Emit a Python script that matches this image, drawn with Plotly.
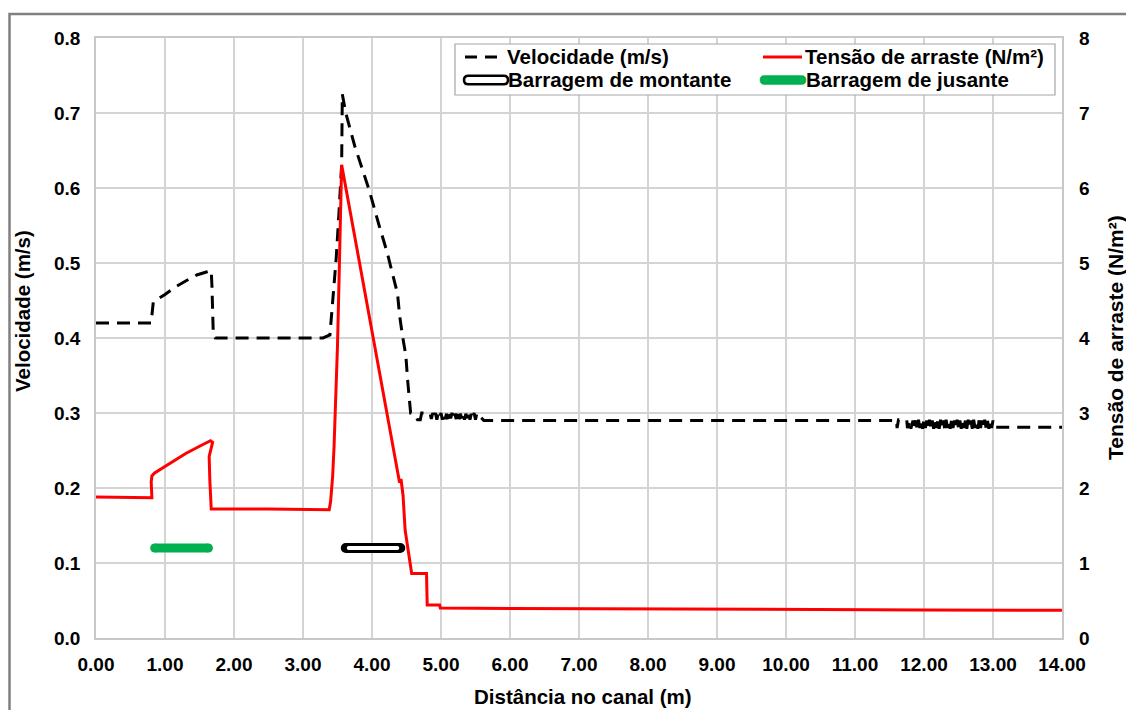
import plotly.graph_objects as go

# ---------------- data ----------------
vel_x = [0.00, 0.80, 0.81, 0.82, 0.83, 1.00, 1.15, 1.30, 1.46, 1.60, 1.67, 1.68, 1.69, 1.70, 1.73,
         2.50, 3.29, 3.39, 3.43, 3.48, 3.52, 3.56, 3.57, 3.62, 3.75, 3.96, 4.10, 4.22, 4.37, 4.40,
         4.44, 4.49, 4.52, 4.55,
         4.56, 4.58, 4.62, 4.66, 4.70, 4.72, 4.84, 4.86, 4.88, 4.90, 4.92, 4.94, 4.96, 4.98,
         5.00, 5.02, 5.04, 5.06, 5.08, 5.10, 5.12, 5.14, 5.16, 5.18, 5.20, 5.22, 5.24, 5.26,
         5.28, 5.30, 5.32, 5.34, 5.36, 5.38, 5.40, 5.42, 5.44, 5.46, 5.48, 5.50, 5.52,
         5.62, 5.66, 5.70,
         8.00, 11.60, 11.61, 11.63, 11.75, 11.76, 11.80, 11.81, 11.84, 11.85, 11.88, 11.90,
         11.92, 11.94, 11.96, 11.98, 12.00, 12.02, 12.04, 12.06, 12.08, 12.10, 12.12, 12.14,
         12.16, 12.18, 12.20, 12.22, 12.24, 12.26, 12.28, 12.30, 12.32, 12.34, 12.36, 12.38,
         12.40, 12.42, 12.44, 12.46, 12.48, 12.50, 12.52, 12.54, 12.56, 12.58, 12.60, 12.62,
         12.64, 12.66, 12.68, 12.70, 12.72, 12.74, 12.76, 12.78, 12.80, 12.82, 12.84, 12.86,
         12.88, 12.90, 12.92, 12.94, 12.96, 12.98, 13.00, 13.02, 14.00]
vel_y = [0.420, 0.420, 0.430, 0.445, 0.448, 0.458, 0.468, 0.476, 0.484, 0.488, 0.490, 0.470, 0.430, 0.405, 0.400,
         0.400, 0.400, 0.404, 0.450, 0.505, 0.565, 0.631, 0.725, 0.700, 0.656, 0.597, 0.551, 0.514, 0.459, 0.430,
         0.404, 0.377, 0.340, 0.312,
         0.300, 0.300, 0.297, 0.291, 0.291, 0.300, 0.300, 0.292, 0.300, 0.293, 0.300, 0.291, 0.300, 0.294,
         0.300, 0.291, 0.300, 0.292, 0.299, 0.291, 0.300, 0.293, 0.300, 0.291, 0.299, 0.292, 0.300, 0.291,
         0.299, 0.293, 0.300, 0.291, 0.299, 0.292, 0.300, 0.291, 0.299, 0.293, 0.300, 0.291, 0.300,
         0.290, 0.290, 0.290,
         0.290, 0.290, 0.280, 0.291, 0.291, 0.280, 0.290, 0.279, 0.290, 0.280, 0.290, 0.279,
         0.291, 0.280, 0.290, 0.279, 0.291, 0.280, 0.290, 0.279, 0.291, 0.280, 0.290, 0.279,
         0.291, 0.280, 0.290, 0.279, 0.291, 0.280, 0.290, 0.279, 0.291, 0.280, 0.290, 0.279,
         0.291, 0.280, 0.290, 0.279, 0.291, 0.280, 0.290, 0.279, 0.291, 0.280, 0.290, 0.279,
         0.291, 0.280, 0.290, 0.279, 0.291, 0.280, 0.290, 0.279, 0.291, 0.280, 0.290, 0.279,
         0.291, 0.280, 0.290, 0.279, 0.291, 0.280, 0.290, 0.281, 0.281]

tau_x = [0.00, 0.50, 0.81, 0.80, 0.81, 0.85, 1.00, 1.30, 1.55, 1.66, 1.69, 1.64, 1.65, 1.67,
         2.50, 3.38, 3.40, 3.43, 3.45, 3.48, 3.50, 3.52, 3.53, 3.54, 3.56, 4.00, 4.40, 4.42, 4.45,
         4.48, 4.575, 4.79, 4.80, 4.98, 4.99, 6.00, 8.00, 10.00, 12.00, 14.00]
tau_y = [1.88, 1.88, 1.87, 2.08, 2.16, 2.20, 2.29, 2.46, 2.58, 2.63, 2.61, 2.42, 2.10, 1.72,
         1.72, 1.71, 1.82, 2.16, 2.55, 3.31, 3.90, 4.68, 5.10, 5.60, 6.31, 4.09, 2.07, 2.12, 1.90,
         1.44, 0.86, 0.86, 0.44, 0.44, 0.40, 0.395, 0.385, 0.38, 0.375, 0.37]

jus_x = [0.85, 1.63]
jus_y = [0.12, 0.12]
mon_x = [3.62, 4.41]
mon_y = [0.12, 0.12]

x_ticks = [i for i in range(0, 15)]
y_left_ticks = [i / 10 for i in range(0, 9)]
y_right_ticks = list(range(0, 9))

# ---------------- layout constants ----------------
# page is drawn with an 8px body margin; plot area wanted at page px (96..1062, 38..638)
OFF = 8
FW, FH = 1118, 702
L, R, T, B = 96, 1062, 38, 638
PX_PER_X = (R - L) / 14.0
FONT = "Arial, Liberation Sans, sans-serif"


def px(xp):
    return (xp - L) / (R - L)


def py(yp):
    return (B - yp) / (B - T)


fig = go.Figure()

fig.add_trace(go.Scatter(x=vel_x, y=vel_y, mode="lines", name="Velocidade (m/s)",
                         line=dict(color="black", width=3, dash="13px,8px"),
                         showlegend=False, yaxis="y"))
fig.add_trace(go.Scatter(x=jus_x, y=jus_y, mode="lines+markers", name="Barragem de jusante",
                         line=dict(color="#00b050", width=9),
                         marker=dict(color="#00b050", size=9, line=dict(width=0)),
                         showlegend=False, yaxis="y"))
inset = 3.0 / PX_PER_X
fig.add_trace(go.Scatter(x=mon_x, y=mon_y, mode="lines+markers", name="Barragem de montante",
                         line=dict(color="black", width=10),
                         marker=dict(color="black", size=10, line=dict(width=0)),
                         showlegend=False, yaxis="y"))
fig.add_trace(go.Scatter(x=[mon_x[0] + inset, mon_x[1] - inset], y=mon_y, mode="lines+markers",
                         line=dict(color="white", width=4),
                         marker=dict(color="white", size=4, line=dict(width=0)),
                         showlegend=False, hoverinfo="skip", yaxis="y"))
fig.add_trace(go.Scatter(x=tau_x, y=tau_y, mode="lines", name="Tensão de arraste (N/m²)",
                         line=dict(color="#ff0000", width=3), showlegend=False, yaxis="y2"))

axis_font = dict(family=FONT, size=19, color="black", weight="bold")
title_font = dict(family=FONT, size=20.5, color="black", weight="bold")
title_font_r = dict(family=FONT, size=21, color="black", weight="bold")
grid = "#d4d4d4"

fig.update_layout(
    width=FW, height=FH,
    margin=dict(l=L - OFF, r=FW - (R - OFF), t=T - OFF, b=FH - (B - OFF), autoexpand=False),
    paper_bgcolor="white", plot_bgcolor="white",
    showlegend=False,
    xaxis=dict(range=[0, 14], tickvals=x_ticks, tickformat=".2f", showgrid=True,
               gridcolor=grid, gridwidth=1.5, zeroline=False, showline=True,
               linecolor="#c8c8c8", linewidth=1.5, mirror=True, ticks="", automargin=False,
               tickfont=axis_font, ticklabelstandoff=8),
    yaxis=dict(range=[0, 0.8], tickvals=y_left_ticks, tickformat=".1f", showgrid=True,
               gridcolor=grid, gridwidth=1.5, zeroline=False, showline=True,
               linecolor="#c8c8c8", linewidth=1.5, mirror=True, ticks="", automargin=False,
               tickfont=axis_font, ticklabelstandoff=10),
    yaxis2=dict(range=[0, 8], tickvals=y_right_ticks, overlaying="y", side="right",
                showgrid=False, zeroline=False, showline=False, ticks="", automargin=False,
                tickfont=axis_font, ticklabelstandoff=16),
)

shapes = []
annotations = []
# axis titles
annotations.append(dict(text="Distância no canal (m)", xref="paper", yref="paper",
                        x=px(583), y=py(696), xanchor="center", yanchor="middle",
                        showarrow=False, font=title_font))
annotations.append(dict(text="Velocidade (m/s)", xref="paper", yref="paper",
                        x=px(22), y=py(311), xanchor="center", yanchor="middle",
                        textangle=-90, showarrow=False, font=title_font))
annotations.append(dict(text="Tensão de arraste (N/m²)", xref="paper", yref="paper",
                        x=px(1115), y=py(338), xanchor="center", yanchor="middle",
                        textangle=-90, showarrow=False, font=title_font_r))

# outer frame
shapes.append(dict(type="rect", xref="paper", yref="paper", x0=px(9.5), x1=px(1160),
                   y0=py(760), y1=py(14), line=dict(color="#808080", width=2.5),
                   fillcolor="rgba(0,0,0,0)", layer="below"))
# legend box
shapes.append(dict(type="rect", xref="paper", yref="paper", x0=px(455), x1=px(1055),
                   y0=py(95), y1=py(44), line=dict(color="#a6a6a6", width=1.2),
                   fillcolor="white", layer="above"))
r1, r2 = 57, 80


def pill(x0, x1, yc, h):
    r = h / 2.0
    d = "M {},{} L {},{} ".format(px(x0 + r), py(yc - r), px(x1 - r), py(yc - r))
    d += "Q {},{} {},{} ".format(px(x1), py(yc - r), px(x1), py(yc))
    d += "Q {},{} {},{} ".format(px(x1), py(yc + r), px(x1 - r), py(yc + r))
    d += "L {},{} ".format(px(x0 + r), py(yc + r))
    d += "Q {},{} {},{} ".format(px(x0), py(yc + r), px(x0), py(yc))
    d += "Q {},{} {},{} Z".format(px(x0), py(yc - r), px(x0 + r), py(yc - r))
    return d


shapes.append(dict(type="line", xref="paper", yref="paper", x0=px(465), x1=px(503),
                   y0=py(r1), y1=py(r1), line=dict(color="black", width=3, dash="12px,8px"),
                   layer="above"))
shapes.append(dict(type="line", xref="paper", yref="paper", x0=px(763), x1=px(802),
                   y0=py(r1), y1=py(r1), line=dict(color="#ff0000", width=3), layer="above"))
shapes.append(dict(type="path", xref="paper", yref="paper", path=pill(464, 508, r2, 8.5),
                   line=dict(color="black", width=2.5), fillcolor="white", layer="above"))
shapes.append(dict(type="path", xref="paper", yref="paper", path=pill(760, 806, r2, 9),
                   line=dict(color="#00b050", width=0.5), fillcolor="#00b050", layer="above"))

leg_font = dict(family=FONT, size=20.5, color="black", weight="bold")
for text, xp, yp in [("Velocidade (m/s)", 508, r1), ("Tensão de arraste (N/m²)", 806, r1),
                     ("Barragem de montante", 509, r2), ("Barragem de jusante", 807, r2)]:
    annotations.append(dict(text=text, xref="paper", yref="paper", x=px(xp), y=py(yp),
                            xanchor="left", yanchor="middle", showarrow=False, font=leg_font,
                            xshift=-3))

fig.update_layout(shapes=shapes, annotations=annotations)

fig.write_html("out.html")
